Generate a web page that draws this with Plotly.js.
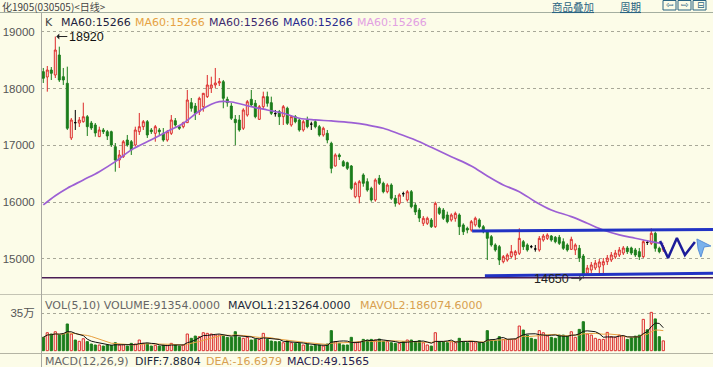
<!DOCTYPE html>
<html><head><meta charset="utf-8">
<script src="https://cdn.plot.ly/plotly-3.0.1.min.js"></script>
<style>html,body{margin:0;padding:0;background:#fcfce8;overflow:hidden}#chart{width:713px;height:367px}</style>
</head><body><div id="chart"></div>
<script>
// ---- data (price in yuan/ton, volume in lots) ----
const openP = [
18300,18206,18329,18241,18594,18211,18095,17130,17400,17394,
17417,17505,17394,17359,17153,17271,17241,17241,16976,16741,
16800,17094,17064,17006,17241,17329,17417,17271,17212,17271,
17212,17094,17212,17435,17329,17329,17400,17753,17694,17594,
17682,17859,18012,18065,18100,18123,17812,17694,17459,17447,
17301,17535,17812,17742,17459,17682,17859,17753,17560,17594,
17506,17654,17359,17506,17447,17271,17447,17374,17417,17329,
17183,17212,17036,16636,16830,16712,16694,16636,16094,16094,
16477,16359,16242,16036,16418,16330,16182,16300,16066,15977,
16147,16036,16182,15947,15859,15624,15624,15683,15565,15889,
15859,15771,15683,15712,15771,15595,15536,15506,15595,15683,
15565,15476,15388,15242,15212,14947,14977,15036,15065,15095,
15300,15242,15212,15171,15154,15330,15359,15400,15377,15377,
15300,15242,15165,15154,15183,15047,14747,14800,14836,14853,
14889,14947,14977,15030,15065,15100,15189,15189,15154,15124,
15036,15286,15271,15448,15183,15154];
const highP = [
18365,18400,18382,18920,18741,18365,18388,17482,17624,17500,
17753,17535,17430,17394,17329,17306,17271,17259,17041,16918,
17094,17183,17094,17329,17571,17447,17447,17306,17359,17306,
17306,17271,17535,17482,17359,17417,17977,17835,17747,17858,
17924,18241,18211,18365,18188,18153,17858,17747,17535,17535,
17654,17800,17977,17800,17712,17947,17947,17859,17624,17624,
17712,17682,17535,17535,17477,17447,17506,17417,17447,17359,
17329,17271,17064,16859,16859,16741,16712,16653,16359,16389,
16507,16418,16270,16418,16477,16359,16330,16330,16124,16153,
16182,16212,16212,15983,15894,15753,15742,15718,16006,15918,
15894,15830,15800,15830,15800,15624,15565,15683,15742,15712,
15595,15506,15418,15271,15242,15065,15095,15242,15154,15536,
15330,15271,15242,15242,15400,15436,15448,15418,15400,15418,
15359,15271,15388,15271,15242,15083,14889,14942,14977,14995,
15012,15065,15118,15154,15206,15224,15224,15212,15189,15189,
15330,15330,15536,15477,15212,15242];
const lowP = [
18100,17947,18153,18188,18118,18065,17271,17094,17271,17324,
17400,17165,17271,17153,17147,17200,17094,16971,16535,16600,
16777,16976,16830,16976,17183,17271,17130,17200,17064,17183,
17064,17064,17183,17329,17271,17300,17394,17594,17447,17535,
17594,17835,17924,18012,18047,17654,17682,17447,17006,17241,
17271,17506,17682,17477,17447,17624,17682,17535,17506,17359,
17359,17359,17329,17389,17241,17241,17300,17271,17300,17153,
17153,17036,16507,16624,16741,16624,16565,16212,16066,15977,
16270,16182,16006,16006,16300,16153,16153,16036,15918,15947,
16094,16006,15889,15771,15647,15577,15595,15542,15542,15771,
15683,15624,15653,15653,15418,15418,15448,15476,15565,15536,
15448,14977,15212,15124,14889,14918,14947,15012,14977,15065,
15154,15124,15183,15124,15124,15300,15330,15300,15271,15242,
15154,15124,15154,15065,14942,14650,14695,14747,14800,14712,
14748,14889,14942,14995,15030,15065,15083,15065,15030,14977,
15012,15242,15242,15124,15095,15118];
const closeP = [
18183,18329,18271,18682,18153,18153,17301,17447,17400,17447,
17505,17329,17306,17218,17271,17241,17165,17006,16741,16830,
17064,17006,16918,17271,17329,17417,17183,17241,17329,17241,
17094,17241,17447,17359,17300,17400,17800,17654,17565,17830,
17918,18065,18065,18100,18123,17830,17753,17477,17400,17271,
17624,17770,17712,17506,17682,17859,17742,17565,17560,17506,
17682,17389,17506,17417,17271,17417,17329,17374,17329,17183,
17301,17094,16595,16830,16800,16636,16595,16242,16330,16359,
16330,16212,16036,16389,16330,16182,16300,16066,15977,16124,
16147,16182,15918,15824,15718,15713,15713,15565,15977,15800,
15713,15653,15771,15800,15565,15476,15506,15653,15713,15565,
15476,15359,15242,15154,14977,15036,15065,15124,15124,15359,
15212,15154,15212,15171,15359,15400,15418,15330,15300,15271,
15183,15154,15342,15242,15012,14712,14836,14889,14924,14942,
14947,15012,15065,15100,15154,15189,15124,15100,15065,15036,
15300,15286,15448,15183,15124,15206];
const volume = [
124000,167000,155000,176000,145000,155000,248000,155000,99000,87000,
111000,84000,62000,53000,53000,43000,53000,50000,74000,53000,
56000,43000,68000,62000,99000,68000,68000,43000,50000,43000,
50000,50000,68000,53000,43000,53000,155000,115000,136000,130000,
167000,161000,155000,145000,145000,136000,124000,124000,176000,124000,
115000,124000,99000,105000,105000,161000,105000,90000,84000,84000,
74000,93000,74000,68000,68000,53000,62000,43000,50000,53000,
43000,62000,186000,84000,68000,53000,53000,124000,74000,84000,
105000,99000,105000,99000,108000,87000,84000,74000,68000,68000,
84000,99000,99000,84000,93000,74000,53000,43000,167000,84000,
84000,74000,84000,74000,115000,84000,74000,84000,74000,74000,
74000,186000,99000,93000,130000,105000,105000,105000,105000,229000,
192000,145000,115000,105000,186000,167000,136000,124000,115000,145000,
145000,136000,176000,124000,198000,269000,155000,145000,115000,105000,
105000,170000,130000,124000,145000,136000,105000,120000,135000,144000,
291000,194000,356000,295000,130000,91354];
// MA60 line (day index, value)
const ma60Day = [0,3,6,10,14,18,22,27,31,35,39,42,44,47,52,56,60,64,68,72,77,81,85,89,93,97,102,107,111,115,119,123,127,132,136,140,144,148,152,155];
const ma60Val = [15948,16110,16243,16389,16536,16712,16920,17100,17245,17390,17605,17725,17771,17765,17682,17624,17566,17478,17448,17430,17400,17360,17301,17201,17095,16966,16800,16636,16460,16301,16183,16006,15860,15742,15625,15507,15419,15361,15301,15266];
// hand-drawn analysis lines (day index, price)
const upperDay = [107.2,167.6], upperVal = [15490,15517];
const lowerDay = [110.4,167.6], lowerVal = [14700,14745];
const baseDay = [-1,168], baseVal = [14665,14665];
const zigDay = [154.2,156.2,158.4,160.4,162.9], zigVal = [15313,15013,15366,15065,15295];
const arrowDay = [163.4,166.9,165.2,164.4,163.7,163.4], arrowVal = [15348,15224,15207,15030,15171,15348];
const yTicks = [15000,16000,17000,18000,19000];
const volTick = [350000], volTickText = ['35万'];
const legendMA = ['MA60:15266','MA60:15266','MA60:15266','MA60:15266','MA60:15266'];

// ---- drawing ----
const BG = '#fcfce8', RED = '#dc2a2a', GREEN = '#1b7d1b';
const W = 713, H = 367;
const px = x => x / W, py = y => 1 - y / H;
const days = openP.map((_, i) => i);
function pick(cond) {
  const idx = days.filter(cond);
  return {x: idx, open: idx.map(i => openP[i]), high: idx.map(i => highP[i]), low: idx.map(i => lowP[i]), close: idx.map(i => closeP[i])};
}
function candle(sel, lc, fc) {
  return Object.assign({type: 'candlestick', xaxis: 'x', yaxis: 'y', hoverinfo: 'skip',
    increasing: {line: {color: lc, width: 1}, fillcolor: fc},
    decreasing: {line: {color: lc, width: 1}, fillcolor: fc}}, sel);
}
function ma(arr, k) {
  return arr.map((v, i) => { const s = Math.max(0, i - k + 1); let t = 0; for (let j = s; j <= i; j++) t += arr[j]; return t / (i - s + 1); });
}
const up = i => closeP[i] > openP[i];
const traces = [
  {type: 'scatter', mode: 'lines', x: baseDay, y: baseVal, line: {color: '#4a1d55', width: 1.5}, hoverinfo: 'skip'},
  {type: 'scatter', mode: 'lines', x: ma60Day, y: ma60Val, line: {color: '#9c5fd4', width: 1.7, shape: 'spline'}, hoverinfo: 'skip'},
  candle(pick(i => closeP[i] > openP[i]), RED, BG),
  candle(pick(i => closeP[i] < openP[i]), GREEN, GREEN),
  candle(pick(i => closeP[i] === openP[i]), '#000', '#000'),
  {type: 'scatter', mode: 'lines', x: upperDay, y: upperVal, line: {color: '#2233c4', width: 3}, hoverinfo: 'skip'},
  {type: 'scatter', mode: 'lines', x: lowerDay, y: lowerVal, line: {color: '#2233c4', width: 3}, hoverinfo: 'skip'},
  {type: 'scatter', mode: 'lines', x: zigDay, y: zigVal, line: {color: '#1c1c9a', width: 2.5}, hoverinfo: 'skip'},
  {type: 'scatter', mode: 'lines', x: arrowDay, y: arrowVal, fill: 'toself', fillcolor: '#7ab2ec', line: {color: '#5a90d8', width: 1}, hoverinfo: 'skip'},
  {type: 'bar', xaxis: 'x2', yaxis: 'y2', x: days, y: volume, width: 0.55, hoverinfo: 'skip',
    marker: {color: days.map(i => up(i) ? BG : GREEN), line: {color: days.map(i => up(i) ? RED : GREEN), width: 1}}},
  {type: 'scatter', mode: 'lines', xaxis: 'x2', yaxis: 'y2', x: days, y: ma(volume, 10), line: {color: '#e8a040', width: 1}, hoverinfo: 'skip'},
  {type: 'scatter', mode: 'lines', xaxis: 'x2', yaxis: 'y2', x: days, y: ma(volume, 5), line: {color: '#111', width: 1}, hoverinfo: 'skip'}
];
const txt = (x, y, text, color, size, family, extra) => Object.assign({xref: 'paper', yref: 'paper', x: px(x), y: py(y), xanchor: 'left', yanchor: 'middle', showarrow: false, text: text,
  font: {family: family || 'DejaVu Sans', size: size || 11, color: color}}, extra || {});
const legendColors = ['#1e1e40', '#e6a244', '#3e2a6e', '#2a2a8e', '#e2a0e2'];
const legendX = [59, 133, 207, 281, 355];
const annotations = [
  txt(0, 7, '化1905(030505)&lt;日线&gt;', '#444', 10, 'Noto Sans CJK SC'),
  txt(550, 7, '<span style="text-decoration:underline">商品叠加</span>', '#2a6482', 10.5, 'Noto Sans CJK SC'),
  txt(618, 7, '<span style="text-decoration:underline">周期</span>', '#2a6482', 10.5, 'Noto Sans CJK SC'),
  txt(43, 22, 'K', '#444'),
  txt(43, 305, 'VOL(5,10) VOLUME:91354.0000', '#666'),
  txt(226, 305, 'MAVOL1:213264.0000', '#1e2a3c'),
  txt(358, 305, 'MAVOL2:186074.6000', '#d8a050'),
  txt(43, 361, 'MACD(12,26,9)', '#666'),
  txt(133, 361, 'DIFF:7.8804', '#1e2a3c'),
  txt(204, 361, 'DEA:-16.6979', '#d8a050'),
  txt(285, 361, 'MACD:49.1565', '#2a2050'),
  {xref: 'x', yref: 'y', x: 3, y: 18920, text: '18920', showarrow: true, ax: 12, ay: 0, xanchor: 'left', yanchor: 'middle',
    arrowhead: 1, arrowsize: 1, arrowwidth: 1, arrowcolor: '#222', standoff: 1, font: {family: 'Liberation Sans', size: 12.5, color: '#111'}},
  {xref: 'x', yref: 'y', x: 135, y: 14650, text: '14650', showarrow: true, ax: -12, ay: 0, xanchor: 'right', yanchor: 'middle',
    arrowhead: 1, arrowsize: 1, arrowwidth: 1, arrowcolor: '#444', standoff: 1, font: {family: 'Liberation Sans', size: 12.5, color: '#222'}}
];
legendMA.forEach((t, i) => annotations.push(txt(legendX[i], 22, t, legendColors[i])));
const shapes = [
  {type: 'line', xref: 'paper', yref: 'paper', x0: 0, x1: 1, y0: py(12.5), y1: py(12.5), line: {color: '#a4aea0', width: 1}},
  {type: 'line', xref: 'paper', yref: 'paper', x0: 0, x1: 1, y0: py(294.5), y1: py(294.5), line: {color: '#c4c4b4', width: 1}},
  {type: 'line', xref: 'paper', yref: 'paper', x0: 0, x1: 1, y0: py(353.5), y1: py(353.5), line: {color: '#b4b4a4', width: 1}},
  {type: 'line', xref: 'paper', yref: 'paper', x0: px(41.5), x1: px(41.5), y0: py(13), y1: 0, line: {color: '#a8a8a0', width: 1}},
  {type: 'rect', xref: 'paper', yref: 'paper', x0: px(663), x1: px(676), y0: py(10), y1: py(0.5), line: {color: '#2a6482', width: 1}},
  {type: 'rect', xref: 'paper', yref: 'paper', x0: px(678), x1: px(691), y0: py(10), y1: py(0.5), line: {color: '#2a6482', width: 1}},
  {type: 'rect', xref: 'paper', yref: 'paper', x0: px(693), x1: px(706), y0: py(10), y1: py(0.5), line: {color: '#2a6482', width: 1}}
];
annotations.push(txt(664, 5.5, '⇦', '#2a6482', 9), txt(679, 5.5, '⇨', '#2a6482', 9), txt(695, 5.5, '⊟', '#2a6482', 9));
const tickFont = {family: 'Liberation Sans, Noto Sans CJK SC', size: 11.5, color: '#555'};
const layout = {
  width: W, height: H, margin: {l: 0, r: 0, t: 0, b: 0}, paper_bgcolor: BG, plot_bgcolor: BG, showlegend: false,
  boxgap: 0.3, boxgroupgap: 0.3, bargap: 0,
  xaxis: {domain: [px(41), 1], range: [-0.575, 167.425], type: 'linear', showticklabels: false, showgrid: false, zeroline: false, showline: false, rangeslider: {visible: false}, fixedrange: true},
  yaxis: {domain: [py(294), py(13)], range: [14377, 19335], tickvals: yTicks, ticktext: yTicks.map(String), showgrid: true, gridcolor: '#a8a898', griddash: 'dot', gridwidth: 1,
    zeroline: false, showline: false, ticks: 'outside', ticklen: 3, tickcolor: 'rgba(0,0,0,0)', tickfont: tickFont, fixedrange: true},
  xaxis2: {anchor: 'y2', domain: [px(41), 1], range: [-0.575, 167.425], type: 'linear', showticklabels: false, showgrid: false, zeroline: false, showline: false, fixedrange: true},
  yaxis2: {anchor: 'x2', domain: [py(353), py(295)], range: [-21400, 517100], tickvals: volTick, ticktext: volTickText, showgrid: true, gridcolor: '#a8a898', griddash: 'dot', gridwidth: 1,
    zeroline: false, showline: false, ticks: 'outside', ticklen: 3, tickcolor: 'rgba(0,0,0,0)', tickfont: tickFont, fixedrange: true},
  annotations: annotations, shapes: shapes
};
Plotly.newPlot('chart', traces, layout, {staticPlot: true, displayModeBar: false});
</script></body></html>
